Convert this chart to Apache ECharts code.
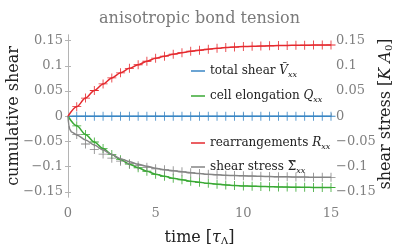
<!DOCTYPE html>
<html><head><meta charset="utf-8">
<script src="https://cdn.jsdelivr.net/npm/echarts@6/dist/echarts.min.js"></script>
<style>html,body{margin:0;padding:0;background:#fff}#c{width:399px;height:251px}</style>
</head><body><div id="c"></div>
<script>
// time samples (markers every 0.5 tau)
const t = [0,0.5,1,1.5,2,2.5,3,3.5,4,4.5,5,5.5,6,6.5,7,7.5,8,8.5,9,9.5,10,10.5,11,11.5,12,12.5,13,13.5,14,14.5,15];
// total shear V_xx
const V = [0,0,0,0,0,0,0,0,0,0,0,0,0,0,0,0,0,0,0,0,0,0,0,0,0,0,0,0,0,0,0];
// rearrangements R_xx
const R = [0,0.019,0.036,0.051,0.064,0.076,0.086,0.095,0.102,0.109,0.115,0.119,0.123,0.126,0.129,0.131,0.133,0.1345,0.136,0.137,0.138,0.1385,0.139,0.1395,0.140,0.1403,0.1406,0.1408,0.141,0.141,0.1412];
// cell elongation Q_xx
const Q = [0,-0.019,-0.036,-0.051,-0.064,-0.076,-0.086,-0.095,-0.102,-0.109,-0.115,-0.119,-0.123,-0.126,-0.129,-0.131,-0.133,-0.1345,-0.136,-0.137,-0.138,-0.1385,-0.139,-0.1395,-0.140,-0.1403,-0.1406,-0.1408,-0.141,-0.141,-0.1412];
// shear stress markers
const Sm = [0,-0.036,-0.055,-0.066,-0.075,-0.083,-0.089,-0.094,-0.098,-0.101,-0.104,-0.106,-0.108,-0.110,-0.112,-0.1135,-0.115,-0.116,-0.117,-0.1175,-0.118,-0.1185,-0.119,-0.1195,-0.120,-0.120,-0.1205,-0.1205,-0.121,-0.121,-0.121];
// shear stress curve
const tS = [0,0.05,0.1,0.2,0.5,1,1.5,2,2.5,3,3.5,4,4.5,5,5.5,6,6.5,7,7.5,8,8.5,9,9.5,10,10.5,11,11.5,12,12.5,13,13.5,14,14.5,15];
const S = [0,-0.018,-0.026,-0.031,-0.037,-0.047,-0.057,-0.067,-0.076,-0.084,-0.090,-0.095,-0.099,-0.103,-0.106,-0.108,-0.110,-0.112,-0.1135,-0.115,-0.116,-0.117,-0.1175,-0.118,-0.1185,-0.119,-0.1195,-0.120,-0.120,-0.1205,-0.1205,-0.121,-0.121,-0.121];
const yTicks = [-0.15,-0.1,-0.05,0,0.05,0.1,0.15];
const xTicks = [0,5,10,15];

const names = ['total shear','cell elongation','rearrangements','shear stress'];
const colors = ['#3a86c4','#3aa935','#e52a2f','#858585'];
const legendText = {
  'total shear': 'total shear {i|Ṽ}{sub|xx}',
  'cell elongation': 'cell elongation {i|Q}{sub|xx}',
  'rearrangements': 'rearrangements {i|R}{sub|xx}',
  'shear stress': 'shear stress {n|Σ̃}{sub|xx}'
};
const serif = 'DejaVu Serif';
const rich = {
  i:{fontFamily:serif,fontStyle:'italic',fontSize:12,color:'#222'},
  n:{fontFamily:serif,fontSize:12,color:'#222'},
  sub:{fontFamily:serif,fontStyle:'italic',fontSize:8,color:'#222',verticalAlign:'bottom',padding:[6,0,0,0]}
};
const zip = (a,b)=>a.map((x,i)=>[x,b[i]]);
const plus = 'path://M-0.09,-1H0.09V-0.09H1V0.09H0.09V1H-0.09V0.09H-1V-0.09H-0.09Z';
const fmt = v => (v<0?'\u2212':'') + String(Math.abs(Math.round(v*100)/100));

const lineData = [zip(t,V), zip(t,Q), zip(t,R), zip(tS,S)];
const markData = [zip(t,V).slice(1), zip(t,Q).slice(1), zip(t,R).slice(1), zip(t,Sm).slice(1)];
const series = [];
names.forEach((n,k)=>{
  series.push({name:n,type:'line',data:lineData[k],showSymbol:false,smooth:0.3,smoothMonotone:'x',
    lineStyle:{color:colors[k],width:1.5},itemStyle:{color:colors[k]},z:2+k,animation:false});
  series.push({name:n+'_m',type:'scatter',data:markData[k],symbol:plus,symbolSize:9,
    itemStyle:{color:colors[k],opacity:1},z:2+k,animation:false});
});
const legendY = [66,91,138,162];
const legends = names.map((n,k)=>({
  data:[n], orient:'vertical', left:186, top:legendY[k]-8, icon:'rect', itemWidth:14, itemHeight:1.5,
  selectedMode:false, formatter: nm => legendText[nm],
  textStyle:{fontFamily:serif,fontSize:12,color:'#222',lineHeight:16,rich:rich}
}));
const axisLineStyle = {color:'#b4b4b4',width:1};
const nameRich = {i:{fontFamily:serif,fontStyle:'italic',fontSize:16,color:'#222'},
  sub:{fontFamily:serif,fontSize:10,color:'#222',verticalAlign:'bottom',padding:[7,0,0,0]}};
const chart = echarts.init(document.getElementById('c'),null,{renderer:'canvas'});
chart.setOption({
  animation:false,
  backgroundColor:'#fff',
  title:{text:'anisotropic bond tension',left:'center',top:6,
    textStyle:{fontFamily:serif,fontWeight:'normal',fontSize:16,color:'#7a7a7a'}},
  legend:legends,
  grid:{left:68,right:68,top:35,bottom:54,containLabel:false,outerBoundsMode:'none'},
  graphic:[
    {type:'text',x:14,y:116,rotation:Math.PI/2,z:10,
      style:{text:'cumulative shear',fontFamily:serif,fontSize:16,fill:'#222',align:'center',verticalAlign:'middle'}},
    {type:'text',x:386,y:114,rotation:Math.PI/2,z:10,
      style:{text:'shear stress [{i|K A}{sub|0}]',fontFamily:serif,fontSize:16,fill:'#222',align:'center',verticalAlign:'middle',rich:nameRich}}
  ],
  xAxis:[{type:'value',min:0,max:15,interval:5,position:'bottom',
    axisLine:{show:true,lineStyle:axisLineStyle},
    axisTick:{show:true,inside:true,length:3,lineStyle:axisLineStyle},
    axisLabel:{fontFamily:serif,fontSize:13,color:'#808080',margin:10},
    splitLine:{show:false},
    name:'time [{i|τ}{sub|Λ}]',nameLocation:'middle',nameGap:32,
    nameTextStyle:{fontFamily:serif,fontSize:16,color:'#222',rich:nameRich}},
   {type:'value',min:0,max:15,position:'top',axisLine:{show:true,lineStyle:axisLineStyle},
    axisTick:{show:false},axisLabel:{show:false},splitLine:{show:false}}],
  yAxis:[{type:'value',min:-0.16,max:0.161,position:'left',
    axisLine:{show:true,lineStyle:axisLineStyle},
    axisTick:{show:true,length:3,customValues:yTicks,lineStyle:axisLineStyle},
    axisLabel:{customValues:yTicks,formatter:fmt,fontFamily:serif,fontSize:13,color:'#808080',margin:5},
    splitLine:{show:false}},
   {type:'value',min:-0.16,max:0.161,position:'right',
    axisLine:{show:true,lineStyle:axisLineStyle},
    axisTick:{show:true,length:3,customValues:yTicks,lineStyle:axisLineStyle},
    axisLabel:{customValues:yTicks,formatter:fmt,fontFamily:serif,fontSize:13,color:'#808080',margin:5},
    splitLine:{show:false}}],
  series:series
});
</script></body></html>
